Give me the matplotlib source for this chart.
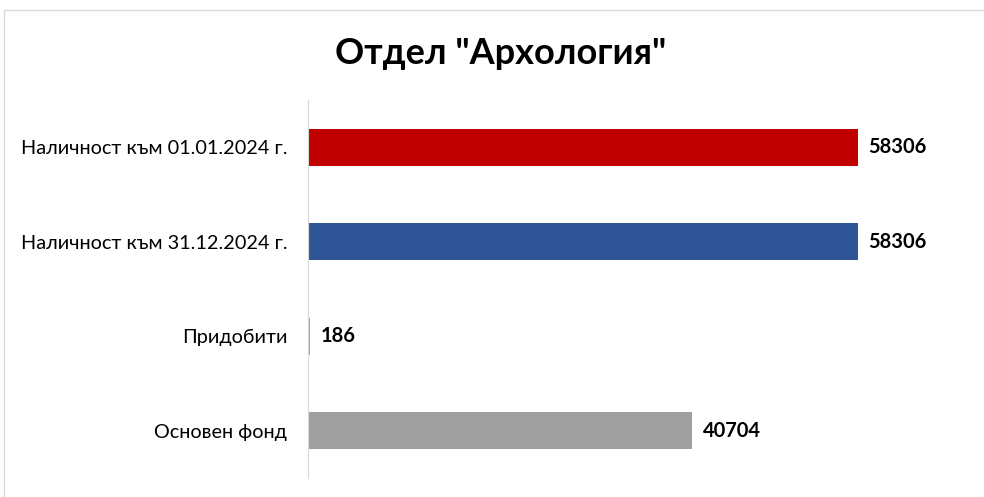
import matplotlib.pyplot as plt
import matplotlib.patches as mpatches

categories = ['Наличност към 01.01.2024 г.', 'Наличност към 31.12.2024 г.', 'Придобити', 'Основен фонд']
values = [58306, 58306, 186, 40704]
colors = ['#C00000', '#2F5597', '#A0A0A0', '#A0A0A0']
title = 'Отдел "Архология"'

plt.rcParams['font.family'] = ['Lato', 'DejaVu Sans']

fig = plt.figure(figsize=(9.84, 4.97), dpi=100)
# outer frame of the chart
fig.patches.append(mpatches.Rectangle((4/984, -0.1), 1.1, 1 - 10/497 + 0.1,
                                      transform=fig.transFigure, fill=False,
                                      edgecolor='#d9d9d9', linewidth=1))

ax = fig.add_axes([308/984, 1 - 478/497, 660/984, 378/497])
ypos = list(range(len(categories)))
ax.barh(ypos, values, height=0.39, color=colors)
ax.set_ylim(len(categories) - 0.5, -0.5)
ax.set_xlim(0, 70000)
ax.set_yticks(ypos)
ax.set_yticklabels(categories, fontsize=14.3)
ax.tick_params(axis='y', length=0, pad=15)
ax.set_xticks([])
for s in ['top', 'right', 'bottom']:
    ax.spines[s].set_visible(False)
ax.spines['left'].set_color('#d9d9d9')

for y, v in zip(ypos, values):
    ax.text(v + 1150, y, str(v), va='center', ha='left', fontsize=14.5, fontweight='bold')

fig.text(501/984, 1 - 53/497, title, ha='center', va='center', fontsize=26, fontweight='bold')

fig.savefig('out.png', dpi=100)
